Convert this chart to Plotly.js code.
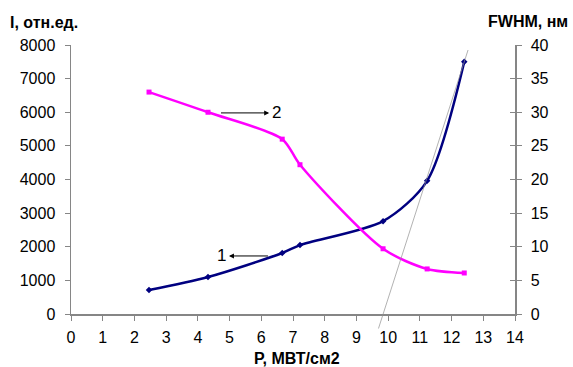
<!DOCTYPE html>
<html>
<head>
<meta charset="utf-8">
<script src="https://cdn.plot.ly/plotly-3.0.1.min.js"></script>
<style>html,body{margin:0;padding:0;background:#fff;}#chart{width:573px;height:367px;}</style>
</head>
<body>
<div id="chart"></div>
<script>
// Series 1: intensity I (left axis), series 2: FWHM (right axis)
const powerP = [2.46, 4.32, 6.66, 7.22, 9.84, 11.23, 12.40];
const intensityI = [714, 1100, 1815, 2050, 2760, 3960, 7500];
const fwhmNm = [33.0, 30.0, 26.0, 22.2, 9.7, 6.7, 6.1];
// tangent (gray thin line) endpoints
const tangentX = [9.68, 12.52];
const tangentY = [-476, 7851];
// label "1" (arrow from curve to label) and "2"
const label1 = {text: '1', x: 4.76, y: 1726, tailX: 6.21};
const label2 = {text: '2', x: 6.47, y: 29.9, tailX: 4.73};
const xTicks = [0,1,2,3,4,5,6,7,8,9,10,11,12,13,14];

const axisGray = '#868686';
const font = 'Liberation Sans, Arial, sans-serif';

const traces = [
  {x: powerP, y: intensityI, yaxis: 'y', mode: 'lines+markers',
   line: {color: '#000080', width: 2.5, shape: 'spline', smoothing: 0.8},
   marker: {symbol: 'diamond', size: 5, color: '#000080'}, hoverinfo: 'skip'},
  {x: powerP, y: fwhmNm, yaxis: 'y2', mode: 'lines+markers',
   line: {color: '#FF00FF', width: 2.5, shape: 'spline', smoothing: 0.8},
   marker: {symbol: 'square', size: 5, color: '#FF00FF'}, hoverinfo: 'skip'},
  {x: [], y: [], yaxis: 'y3', mode: 'lines', showlegend: false}
];

const layout = {
  width: 573, height: 367,
  margin: {l: 71, r: 58, t: 45, b: 53},
  paper_bgcolor: '#fff', plot_bgcolor: '#fff',
  showlegend: false,
  font: {family: font, size: 16, color: '#000'},
  xaxis: {range: [0, 14], tickvals: xTicks, ticks: 'outside', ticklen: 5, tickcolor: axisGray,
          showline: true, linecolor: axisGray, linewidth: 1.5, showgrid: false, zeroline: false,
          tickfont: {family: 'Liberation Sans Narrow, Arial Narrow, ' + font, size: 16},
          ticklabelstandoff: 3, fixedrange: true},
  yaxis: {range: [0, 8000], dtick: 1000, ticks: 'outside', ticklen: 5, tickcolor: axisGray,
          showline: true, linecolor: axisGray, linewidth: 1.5, showgrid: false, zeroline: false,
          tickfont: {size: 16}, ticklabelstandoff: 6, fixedrange: true},
  yaxis2: {range: [0, 40], dtick: 5, overlaying: 'y', side: 'right', ticks: 'outside', ticklen: 5,
           tickcolor: axisGray, showline: true, linecolor: axisGray, linewidth: 1.5, showgrid: false,
           zeroline: false, tickfont: {size: 16}, ticklabelstandoff: 6, fixedrange: true},
  yaxis3: {range: [0, 40], dtick: 5, overlaying: 'y', side: 'right', ticks: 'inside', ticklen: 5,
           tickcolor: axisGray, showline: false, showticklabels: false, showgrid: false,
           zeroline: false, fixedrange: true},
  annotations: [
    {xref: 'x', yref: 'y', axref: 'x', ayref: 'y', x: tangentX[1], y: tangentY[1],
     ax: tangentX[0], ay: tangentY[0], text: '', showarrow: true, arrowhead: 0,
     arrowwidth: 0.7, arrowcolor: '#909090', standoff: 0, startstandoff: 0},
    {xref: 'x', yref: 'y', axref: 'x', ayref: 'y', x: label1.tailX, y: label1.y,
     ax: label1.x, ay: label1.y, text: label1.text, showarrow: true, arrowside: 'start',
     arrowhead: 2, startarrowhead: 2, arrowsize: 1, arrowwidth: 1, arrowcolor: '#000',
     standoff: 0, startstandoff: 1, font: {size: 17, color: '#000'}},
    {xref: 'x', yref: 'y2', axref: 'x', ayref: 'y2', x: label2.tailX, y: label2.y,
     ax: label2.x, ay: label2.y, text: label2.text, showarrow: true, arrowside: 'start',
     arrowhead: 2, startarrowhead: 2, arrowsize: 1, arrowwidth: 1, arrowcolor: '#000',
     standoff: 0, startstandoff: 1, font: {size: 17, color: '#000'}},
    {xref: 'paper', yref: 'paper', x: -0.142, y: 1.082, xanchor: 'left', yanchor: 'middle',
     text: '<b>I, отн.ед.</b>', showarrow: false, font: {size: 16}},
    {xref: 'paper', yref: 'paper', x: 0.935, y: 1.086, xanchor: 'left', yanchor: 'middle',
     text: '<b>FWHM, нм</b>', showarrow: false, font: {size: 16}},
    {xref: 'paper', yref: 'paper', x: 0.509, y: -0.167, xanchor: 'center', yanchor: 'middle',
     text: '<b>P, МВТ/см2</b>', showarrow: false, font: {size: 16}}
  ]
};

Plotly.newPlot('chart', traces, layout, {displayModeBar: false, staticPlot: true});
</script>
</body>
</html>
